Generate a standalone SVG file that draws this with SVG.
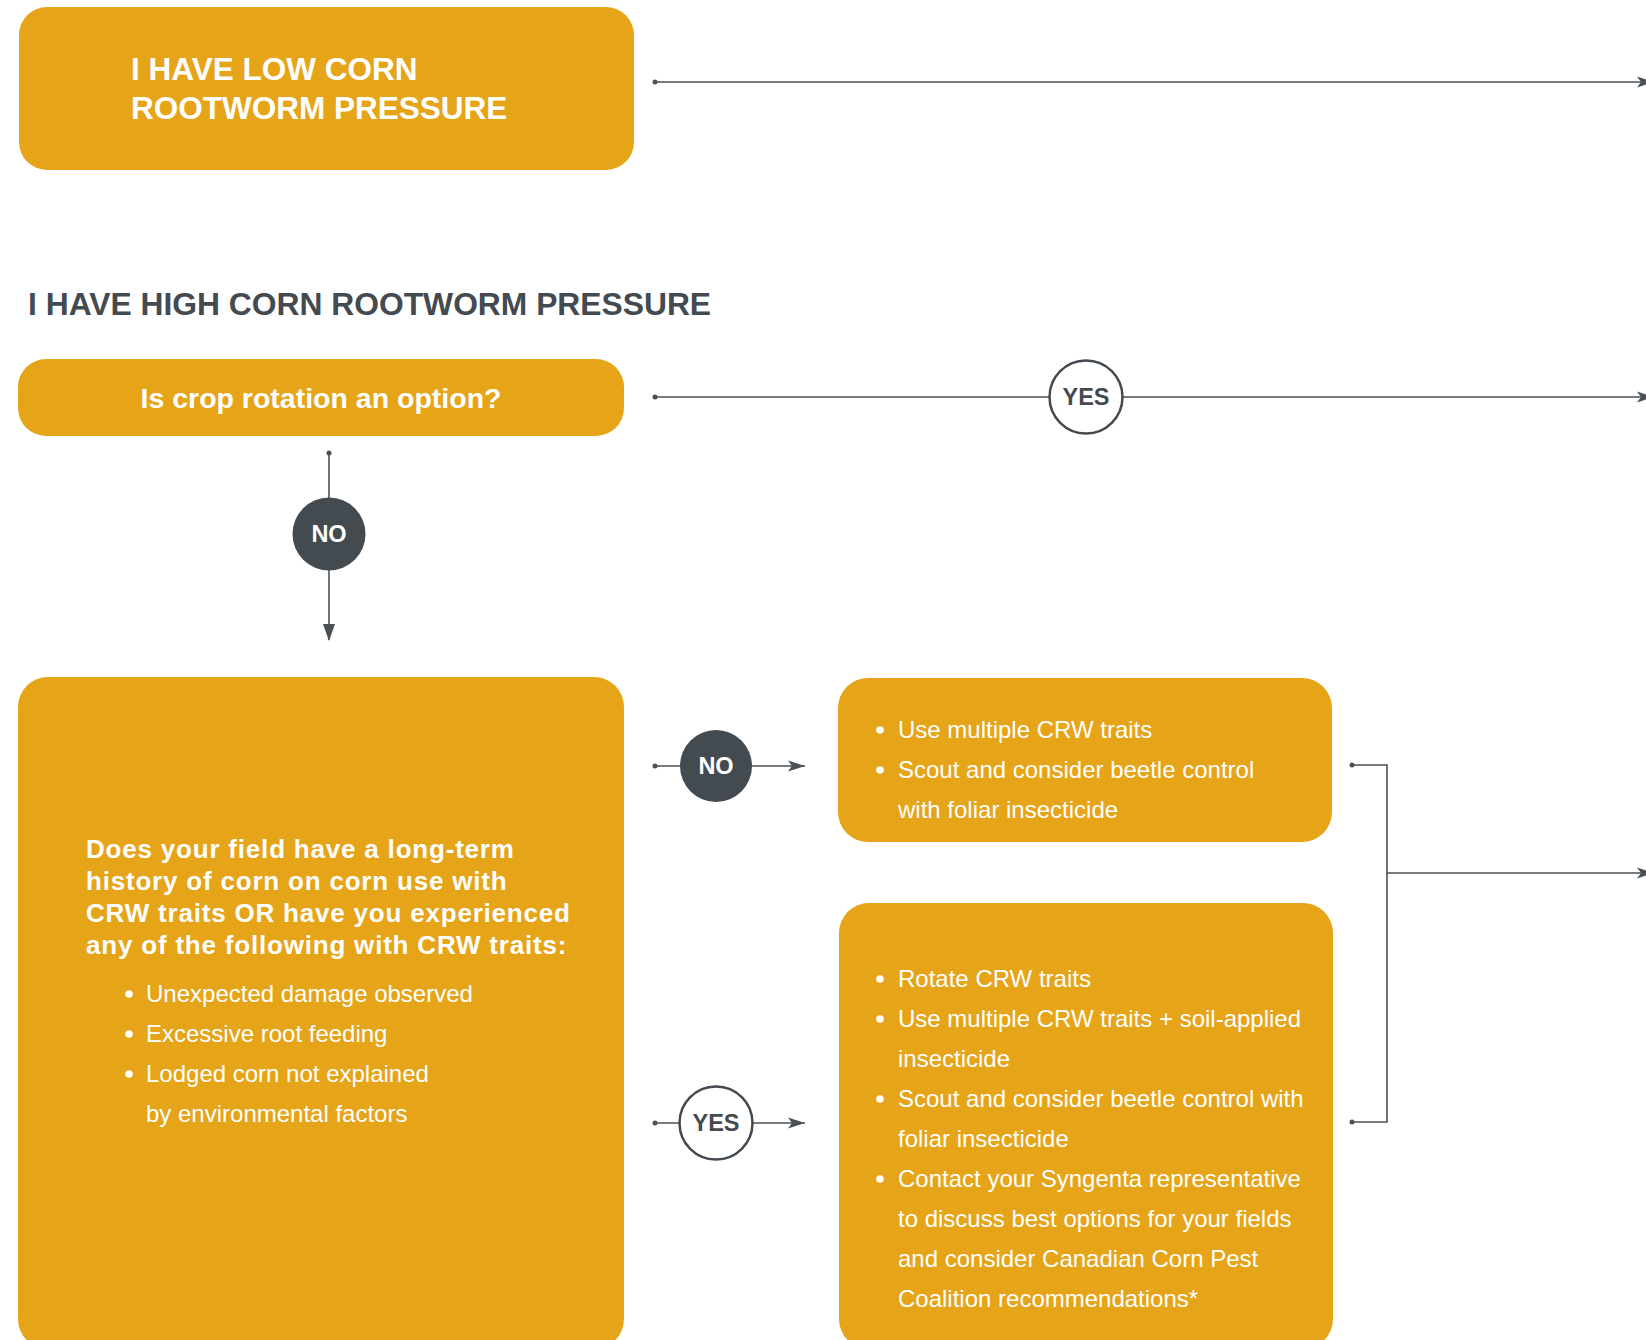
<svg xmlns="http://www.w3.org/2000/svg" width="1646" height="1340" viewBox="0 0 1646 1340">
<style>
.box{fill:#E6A418}
.ln{fill:none;stroke:#4A5056;stroke-width:1.6}
.dot{fill:#4A5056}
.h{font-family:"Liberation Sans",Arial,sans-serif;font-weight:bold}
.w{fill:#FFFFFF}
.dk{fill:#434A50}
.b{font-family:"Liberation Sans",Arial,sans-serif;font-size:24px;fill:#FFFFFF}
.bul{fill:#FFFFFF}
</style>
<defs>
<marker id="arr" markerWidth="18" markerHeight="12" refX="17" refY="6" orient="auto" markerUnits="userSpaceOnUse">
<path d="M0,0.5 L17,6 L0,11.5 L4,6 Z" fill="#4A5056"/>
</marker>
</defs>

<g id="connectors">
<line class="ln" x1="655" y1="82" x2="1654" y2="82" marker-end="url(#arr)"/>
<circle class="dot" cx="655" cy="82" r="2.5"/>
<line class="ln" x1="655" y1="397" x2="1654" y2="397" marker-end="url(#arr)"/>
<circle class="dot" cx="655" cy="397" r="2.5"/>
<line class="ln" x1="329" y1="453" x2="329" y2="640"/>
<path d="M323,624 L335,624 L329,641 Z" fill="#4A5056"/>
<circle class="dot" cx="329" cy="453" r="2.5"/>
<line class="ln" x1="655" y1="766" x2="805" y2="766" marker-end="url(#arr)"/>
<circle class="dot" cx="655" cy="766" r="2.5"/>
<line class="ln" x1="655" y1="1123" x2="805" y2="1123" marker-end="url(#arr)"/>
<circle class="dot" cx="655" cy="1123" r="2.5"/>
<polyline class="ln" points="1352,765 1387,765 1387,1122 1352,1122"/>
<circle class="dot" cx="1352" cy="765" r="2.5"/>
<circle class="dot" cx="1352" cy="1122" r="2.5"/>
<line class="ln" x1="1387" y1="873" x2="1654" y2="873" marker-end="url(#arr)"/>
</g>

<g id="low">
<rect class="box" x="19" y="7" width="615" height="163" rx="28"/>
<text class="h w" x="131" y="80" font-size="31.5">I HAVE LOW CORN</text>
<text class="h w" x="131" y="119" font-size="31.5">ROOTWORM PRESSURE</text>
</g>

<g id="high-title">
<text class="h dk" x="28" y="315" font-size="31.8">I HAVE HIGH CORN ROOTWORM PRESSURE</text>
</g>

<g id="rotation">
<rect class="box" x="18" y="359" width="606" height="77" rx="28"/>
<text class="h w" x="321" y="408" font-size="28.5" text-anchor="middle">Is crop rotation an option?</text>
</g>

<g id="yes-rotation">
<circle cx="1086" cy="397" r="36.5" fill="#FFFFFF" stroke="#434A50" stroke-width="2.5"/>
<text class="h dk" x="1086" y="405" font-size="23.5" text-anchor="middle">YES</text>
</g>

<g id="no-rotation">
<circle cx="329" cy="534" r="36.5" fill="#434A50"/>
<text class="h w" x="329" y="542" font-size="23.5" text-anchor="middle">NO</text>
</g>

<g id="history">
<rect class="box" x="18" y="677" width="606" height="672" rx="30"/>
<g class="h w" font-size="26" letter-spacing="0.8">
<text x="86" y="858">Does your field have a long-term</text>
<text x="86" y="890">history of corn on corn use with</text>
<text x="86" y="922">CRW traits OR have you experienced</text>
<text x="86" y="954">any of the following with CRW traits:</text>
</g>
<circle class="bul" cx="129" cy="994" r="3.8"/>
<circle class="bul" cx="129" cy="1034" r="3.8"/>
<circle class="bul" cx="129" cy="1074" r="3.8"/>
<text class="b" x="146" y="1002">Unexpected damage observed</text>
<text class="b" x="146" y="1042">Excessive root feeding</text>
<text class="b" x="146" y="1082">Lodged corn not explained</text>
<text class="b" x="146" y="1122">by environmental factors</text>
</g>

<g id="no-history">
<circle cx="716" cy="766" r="36" fill="#434A50"/>
<text class="h w" x="716" y="774" font-size="23.5" text-anchor="middle">NO</text>
</g>

<g id="yes-history">
<circle cx="716" cy="1123" r="36.5" fill="#FFFFFF" stroke="#434A50" stroke-width="2.5"/>
<text class="h dk" x="716" y="1131" font-size="23.5" text-anchor="middle">YES</text>
</g>

<g id="no-actions">
<rect class="box" x="838" y="678" width="494" height="164" rx="30"/>
<circle class="bul" cx="880" cy="730" r="3.8"/>
<circle class="bul" cx="880" cy="770" r="3.8"/>
<text class="b" x="898" y="738">Use multiple CRW traits</text>
<text class="b" x="898" y="778">Scout and consider beetle control</text>
<text class="b" x="898" y="818">with foliar insecticide</text>
</g>

<g id="yes-actions">
<rect class="box" x="839" y="903" width="494" height="446" rx="30"/>
<circle class="bul" cx="880" cy="979" r="3.8"/>
<circle class="bul" cx="880" cy="1019" r="3.8"/>
<circle class="bul" cx="880" cy="1099" r="3.8"/>
<circle class="bul" cx="880" cy="1179" r="3.8"/>
<text class="b" x="898" y="987">Rotate CRW traits</text>
<text class="b" x="898" y="1027">Use multiple CRW traits + soil-applied</text>
<text class="b" x="898" y="1067">insecticide</text>
<text class="b" x="898" y="1107">Scout and consider beetle control with</text>
<text class="b" x="898" y="1147">foliar insecticide</text>
<text class="b" x="898" y="1187">Contact your Syngenta representative</text>
<text class="b" x="898" y="1227">to discuss best options for your fields</text>
<text class="b" x="898" y="1267">and consider Canadian Corn Pest</text>
<text class="b" x="898" y="1307">Coalition recommendations*</text>
</g>
</svg>
